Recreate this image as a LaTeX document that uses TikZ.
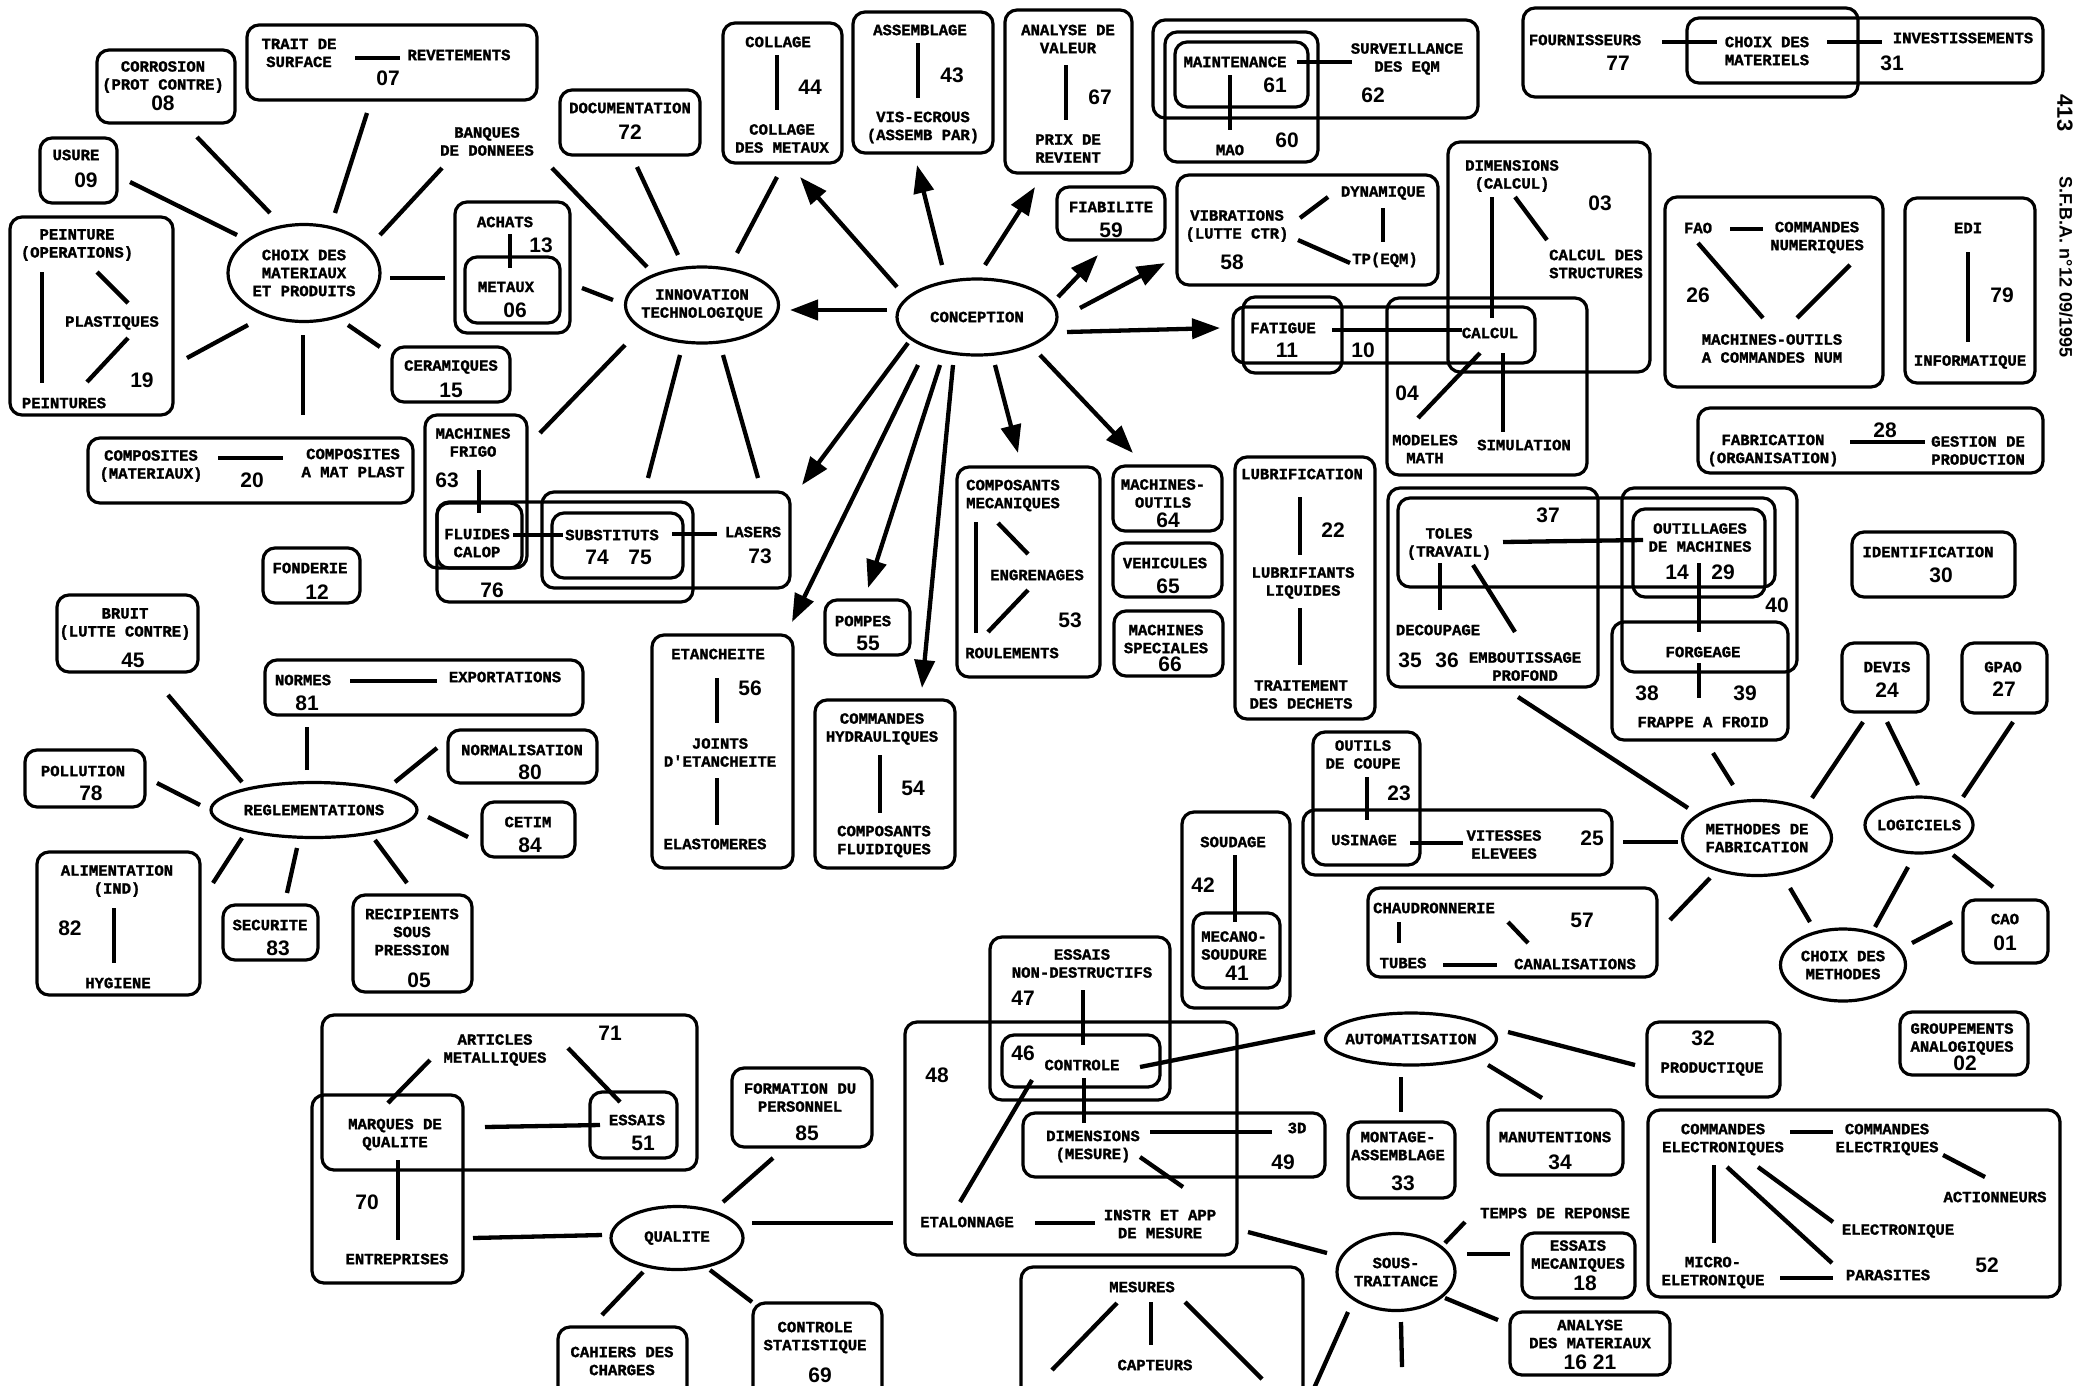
\documentclass[tikz,border=0pt]{standalone}
\usepackage{fontspec}
\newfontfamily\labfont{Liberation Mono}[BoldFeatures={FakeBold=1.5}]
\newfontfamily\numfont{Liberation Sans}
\usetikzlibrary{positioning,arrows.meta,shapes.geometric,fit,calc}

\begin{document}
\begin{tikzpicture}[
  x=1pt, y=-1pt,
  box/.style={draw, line width=3.2pt, rounded corners=12pt, inner sep=0pt},
  oval/.style={draw, ellipse, line width=3.2pt, inner sep=0pt},
  lab/.style={align=center, inner sep=1pt, font=\labfont\bfseries\fontsize{15.6}{18}\selectfont},
  num/.style={inner sep=1pt, font=\numfont\bfseries\fontsize{21}{24}\selectfont},
  ln/.style={line width=4.3pt},
  arr/.style={line width=4.3pt, -{Triangle[length=28pt,width=20pt]}},
  sidetxt/.style={rotate=-90, inner sep=0pt, font=\numfont\bfseries\fontsize{18}{20}\selectfont}
]
\fill[white] (0,0) rectangle (2079,1385);
\useasboundingbox (0,0) rectangle (2079,1385);

% choix des materiaux et produits
\node[oval, minimum width=152pt, minimum height=97pt] (choixmat) at (304,273) {};
\node[lab] (choixmattxt) at (choixmat) {CHOIX DES\\MATERIAUX\\ET PRODUITS};
\node[box, fit={(97,50) (235,123)}] (b08) {};
\node[lab] (corros) at (163,77) {CORROSION\\(PROT CONTRE)};
\node[num] (n08) at (163,103) {08};
\node[box, fit={(247,25) (537,100)}] (b07) {};
\node[lab] (traitsurf) at (299,53) {TRAIT DE\\SURFACE};
\node[lab] (revet) at (459,55) {REVETEMENTS};
\node[num] (n07) at (388,78) {07};
\node[box, fit={(40,138) (117,203)}] (b09) {};
\node[lab] (usure) at (76,155) {USURE};
\node[num] (n09) at (86,180) {09};
\node[box, fit={(10,217) (173,415)}] (b19) {};
\node[lab] (peinture) at (77,245) {PEINTURE\\(OPERATIONS)};
\node[lab] (plast) at (112,323) {PLASTIQUES};
\node[lab] (peintures) at (64,403) {PEINTURES};
\node[num] (n19) at (142,380) {19};
\node[lab] (banques) at (487,141.5) {BANQUES\\DE DONNEES};
\node[box, fit={(455,202) (570,333)}] (b13) {};
\node[box, fit={(465,257) (560,323)}] (b06) {};
\node[lab] (achats) at (505,222) {ACHATS};
\node[num] (n13) at (541,245) {13};
\node[lab] (metaux) at (506,287) {METAUX};
\node[num] (n06) at (515,310) {06};
\node[box, fit={(392,347) (510,402)}] (b15) {};
\node[lab] (ceram) at (451,367) {CERAMIQUES};
\node[num] (n15) at (451,390) {15};
\node[box, fit={(88,438) (413,503)}] (b20) {};
\node[lab] (compmat) at (151,466) {COMPOSITES\\(MATERIAUX)};
\node[lab] (compplast) at (353,463) {COMPOSITES\\A MAT PLAST};
\node[num] (n20) at (252,480) {20};

\draw[ln] ($(choixmat)+(-34,-60)$) -- ($(b08)+(31,50.5)$);
\draw[ln] ($(choixmat)+(-67,-38)$) -- ($(b09)+(51.5,11.5)$);
\draw[ln] ($(choixmat)+(31,-60)$) -- ($(b07)+(-25,50.5)$);
\draw[ln] ($(choixmat)+(76,-38)$) -- ($(banques)+(-45,26.5)$);
\draw[ln] ($(choixmat)+(86,5)$) -- ($(b13)+(-67.5,10.5)$);
\draw[ln] ($(choixmat)+(44,52)$) -- ($(b15)+(-71,-27.5)$);
\draw[ln] ($(choixmat)+(-1,62)$) -- ($(b20)+(52.5,-55.5)$);
\draw[ln] ($(choixmat)+(-56,52)$) -- ($(b19)+(95.5,42)$);
\draw[ln] ($(traitsurf)+(56,5)$) -- ($(revet)+(-59,3)$);
\draw[ln] ($(peinture)+(-35,27)$) -- ($(peintures)+(-22,-20)$);
\draw[ln] ($(peinture)+(20,27)$) -- ($(plast)+(16,-20)$);
\draw[ln] ($(plast)+(16,15)$) -- ($(peintures)+(23,-21)$);
\draw[ln] ($(achats)+(5,12)$) -- ($(metaux)+(4,-19)$);
\draw[ln] ($(compmat)+(67,-8)$) -- ($(compplast)+(-70,-5)$);

% innovation technologique
\node[oval, minimum width=153pt, minimum height=76pt] (innov) at (702,305) {};
\node[lab] (innovtxt) at (innov) {INNOVATION\\TECHNOLOGIQUE};
\node[box, fit={(560,90) (700,155)}] (b72) {};
\node[lab] (docu) at (630,108) {DOCUMENTATION};
\node[num] (n72) at (630,132) {72};
\node[box, fit={(723,23) (842,163)}] (b44) {};
\node[lab] (coll) at (778,42) {COLLAGE};
\node[num] (n44) at (810,87) {44};
\node[lab] (collmet) at (782,138.5) {COLLAGE\\DES METAUX};
\node[box, fit={(425,415) (527,568)}] (b63) {};
\node[lab] (frigo) at (473,442.5) {MACHINES\\FRIGO};
\node[num] (n63) at (447,480) {63};
\node[box, fit={(437,503) (522,568)}] (bfluid) {};
\node[lab] (fluid) at (477,543) {FLUIDES\\CALOP};
\node[box, fit={(437,502) (693,602)}] (b76) {};
\node[num] (n76) at (492,590) {76};
\node[box, fit={(542,492) (790,588)}] (b73) {};
\node[box, fit={(552,513) (683,578)}] (b74) {};
\node[lab] (subst) at (612,535) {SUBSTITUTS};
\node[num] (n74) at (597,557) {74};
\node[num] (n75) at (640,557) {75};
\node[lab] (lasers) at (753,532) {LASERS};
\node[num] (n73) at (760,556) {73};

\draw[ln] ($(coll)+(-1,13)$) -- ($(collmet)+(-5,-28.5)$);
\draw[ln] ($(frigo)+(6,27.5)$) -- ($(fluid)+(2,-30)$);
\draw[ln] ($(fluid)+(36,-8)$) -- ($(subst)+(-49,0)$);
\draw[ln] ($(subst)+(60,-1)$) -- ($(lasers)+(-36,2)$);
\draw[ln] ($(innov)+(-55,-38)$) -- ($(banques)+(65,26.5)$);
\draw[ln] ($(innov)+(-24,-50)$) -- ($(b72)+(7,44.5)$);
\draw[ln] ($(innov)+(35,-52)$) -- ($(b44)+(-5.5,84)$);
\draw[ln] ($(innov)+(-89,-5)$) -- ($(b13)+(69.5,20.5)$);
\draw[ln] ($(innov)+(-77,40)$) -- ($(b63)+(64,-58.5)$);
\draw[ln] ($(innov)+(-22,50)$) -- ($(b76)+(83,-74)$);
\draw[ln] ($(innov)+(21,50)$) -- ($(b73)+(92,-62)$);

% conception
\node[oval, minimum width=160pt, minimum height=76pt] (concep) at (977,317) {};
\node[lab] (conceptxt) at (concep) {CONCEPTION};
\node[box, fit={(853,12) (993,153)}] (b43) {};
\node[lab] (assemb) at (920,30) {ASSEMBLAGE};
\node[num] (n43) at (952,75) {43};
\node[lab] (visecr) at (923,127.5) {VIS-ECROUS\\(ASSEMB PAR)};
\node[box, fit={(1005,10) (1132,173)}] (b67) {};
\node[lab] (anval) at (1068,39) {ANALYSE DE\\VALEUR};
\node[num] (n67) at (1100,97) {67};
\node[lab] (prixrev) at (1068,148.5) {PRIX DE\\REVIENT};
\node[box, fit={(1057,187) (1165,240)}] (b59) {};
\node[lab] (fiab) at (1111,207) {FIABILITE};
\node[num] (n59) at (1111,230) {59};
\draw[ln] ($(assemb)+(-2,13)$) -- ($(visecr)+(-5,-29.5)$);
\draw[ln] ($(anval)+(-2,26)$) -- ($(prixrev)+(-2,-28.5)$);

% maintenance
\node[box, fit={(1153,20) (1478,118)}] (b62) {};
\node[box, fit={(1165,32) (1318,162)}] (b60) {};
\node[box, fit={(1175,42) (1308,107)}] (b61) {};
\node[lab] (maint) at (1235,62) {MAINTENANCE};
\node[num] (n61) at (1275,85) {61};
\node[lab] (surv) at (1407,59) {SURVEILLANCE\\DES EQM};
\node[num] (n62) at (1373,95) {62};
\node[lab] (mao) at (1230,150) {MAO};
\node[num] (n60) at (1287,140) {60};
\draw[ln] ($(maint)+(62,0)$) -- ($(surv)+(-55,3)$);
\draw[ln] ($(maint)+(-5,13)$) -- ($(mao)+(0,-20)$);

% vibrations
\node[box, fit={(1177,175) (1438,285)}] (b58) {};
\node[lab] (vibr) at (1237,226) {VIBRATIONS\\(LUTTE CTR)};
\node[num] (n58) at (1232,262) {58};
\node[lab] (dynam) at (1383,193) {DYNAMIQUE};
\node[lab] (tpeqm) at (1385,260) {TP(EQM)};
\draw[ln] ($(vibr)+(63,-8)$) -- ($(dynam)+(-55,4)$);
\draw[ln] ($(dynam)+(0,15)$) -- ($(tpeqm)+(-2,-18)$);
\draw[ln] ($(vibr)+(61,14)$) -- ($(tpeqm)+(-35,3)$);

% fatigue, calcul
\node[box, fit={(1448,142) (1650,372)}] (b03) {};
\node[box, fit={(1387,298) (1587,475)}] (b04) {};
\node[box, fit={(1243,297) (1342,373)}] (b11) {};
\node[box, fit={(1233,307) (1535,363)}] (b10) {};
\node[lab] (fatig) at (1283,328) {FATIGUE};
\node[num] (n11) at (1287,350) {11};
\node[num] (n10) at (1363,350) {10};
\node[lab] (calcul) at (1490,333) {CALCUL};
\node[lab] (dimcalc) at (1512,176) {DIMENSIONS\\(CALCUL)};
\node[num] (n03) at (1600,203) {03};
\node[lab] (calcstr) at (1596,264) {CALCUL DES\\STRUCTURES};
\node[num] (n04) at (1407,393) {04};
\node[lab] (modmath) at (1425,449) {MODELES\\MATH};
\node[lab] (simul) at (1524,445) {SIMULATION};
\draw[ln] ($(fatig)+(49,2)$) -- ($(calcul)+(-28,-3)$);
\draw[ln] ($(dimcalc)+(-20,21)$) -- ($(calcul)+(2,-15)$);
\draw[ln] ($(dimcalc)+(3,21)$) -- ($(calcstr)+(-49,-24)$);
\draw[ln] ($(calcul)+(-10,20)$) -- ($(modmath)+(-7,-31)$);
\draw[ln] ($(calcul)+(13,20)$) -- ($(simul)+(-21,-13)$);

% fournisseurs
\node[box, fit={(1523,8) (1858,97)}] (b77) {};
\node[box, fit={(1687,18) (2043,83)}] (b31) {};
\node[lab] (fourn) at (1585,40) {FOURNISSEURS};
\node[num] (n77) at (1618,63) {77};
\node[lab] (choixmatl) at (1767,51) {CHOIX DES\\MATERIELS};
\node[lab] (invest) at (1963,38) {INVESTISSEMENTS};
\node[num] (n31) at (1892,63) {31};
\draw[ln] ($(fourn)+(77,2)$) -- ($(choixmatl)+(-50,-9)$);
\draw[ln] ($(choixmatl)+(60,-9)$) -- ($(invest)+(-81,4)$);

% FAO, EDI, fabrication
\node[box, fit={(1665,197) (1883,387)}] (b26) {};
\node[lab] (fao) at (1698,228) {FAO};
\node[lab] (cmdnum) at (1817,237.5) {COMMANDES\\NUMERIQUES};
\node[num] (n26) at (1698,295) {26};
\node[lab] (macn) at (1772,348.5) {MACHINES-OUTILS\\A COMMANDES NUM};
\draw[ln] ($(fao)+(32,1)$) -- ($(cmdnum)+(-54,-8.5)$);
\draw[ln] ($(fao)+(0,15)$) -- ($(macn)+(-9,-30.5)$);
\draw[ln] ($(cmdnum)+(33,27.5)$) -- ($(macn)+(25,-30.5)$);
\node[box, fit={(1905,198) (2035,383)}] (b79) {};
\node[lab] (edi) at (1968,228) {EDI};
\node[num] (n79) at (2002,295) {79};
\node[lab] (inform) at (1970,362) {INFORMATIQUE};
\draw[ln] ($(edi)+(0,24)$) -- ($(inform)+(-2,-20)$);
\node[box, fit={(1698,408) (2043,473)}] (b28) {};
\node[lab] (fabr) at (1773,450.5) {FABRICATION\\(ORGANISATION)};
\node[num] (n28) at (1885,430) {28};
\node[lab] (gestprod) at (1978,450.5) {GESTION DE\\PRODUCTION};
\draw[ln] ($(fabr)+(77,-8.5)$) -- ($(gestprod)+(-53,-8.5)$);
\node[sidetxt, font=\numfont\bfseries\fontsize{22}{24}\selectfont] (pagenum) at (2065,113) {413};
\node[sidetxt] (source) at (2066,267) {S.F.B.A. n°12 09/1995};

% reglementations
\node[oval, minimum width=206pt, minimum height=55pt] (regl) at (314,810) {};
\node[lab] (regltxt) at (regl) {REGLEMENTATIONS};
\node[box, fit={(263,548) (360,603)}] (b12) {};
\node[lab] (fond) at (310,568) {FONDERIE};
\node[num] (n12) at (317,592) {12};
\node[box, fit={(57,595) (198,672)}] (b45) {};
\node[lab] (bruit) at (125,624) {BRUIT\\(LUTTE CONTRE)};
\node[num] (n45) at (133,660) {45};
\node[box, fit={(265,660) (583,715)}] (b81) {};
\node[lab] (normes) at (303,680) {NORMES};
\node[lab] (export) at (505,677) {EXPORTATIONS};
\node[num] (n81) at (307,703) {81};
\node[box, fit={(448,730) (597,783)}] (b80) {};
\node[lab] (normal) at (522,750) {NORMALISATION};
\node[num] (n80) at (530,772) {80};
\node[box, fit={(482,802) (575,857)}] (b84) {};
\node[lab] (cetim) at (528,822) {CETIM};
\node[num] (n84) at (530,845) {84};
\node[box, fit={(25,750) (145,807)}] (b78) {};
\node[lab] (pollu) at (83,771) {POLLUTION};
\node[num] (n78) at (91,793) {78};
\node[box, fit={(37,852) (200,995)}] (b82) {};
\node[lab] (alim) at (117,881) {ALIMENTATION\\(IND)};
\node[num] (n82) at (70,928) {82};
\node[lab] (hygiene) at (118,983) {HYGIENE};
\node[box, fit={(223,905) (318,960)}] (b83) {};
\node[lab] (secur) at (270,925) {SECURITE};
\node[num] (n83) at (278,948) {83};
\node[box, fit={(353,895) (472,992)}] (b05) {};
\node[lab] (recip) at (412,932) {RECIPIENTS\\SOUS\\PRESSION};
\node[num] (n05) at (419,980) {05};

\draw[ln] ($(normes)+(47,1)$) -- ($(export)+(-68,4)$);
\draw[ln] ($(alim)+(-3,27)$) -- ($(hygiene)+(-4,-20)$);
\draw[ln] ($(regl)+(-72,-28)$) -- ($(b45)+(40.5,61.5)$);
\draw[ln] ($(regl)+(-7,-40)$) -- ($(b81)+(-117,39.5)$);
\draw[ln] ($(regl)+(81,-28)$) -- ($(b80)+(-85.5,-8.5)$);
\draw[ln] ($(regl)+(-114,-5)$) -- ($(b78)+(72,4.5)$);
\draw[ln] ($(regl)+(114,7)$) -- ($(b84)+(-60.5,7.5)$);
\draw[ln] ($(regl)+(-72,28)$) -- ($(b82)+(94.5,-40.5)$);
\draw[ln] ($(regl)+(-17,38)$) -- ($(b83)+(16.5,-39.5)$);
\draw[ln] ($(regl)+(61,30)$) -- ($(b05)+(-5.5,-60.5)$);

% etancheite, pompes, composants
\node[box, fit={(652,635) (793,868)}] (b56) {};
\node[lab] (etanch) at (718,654) {ETANCHEITE};
\node[num] (n56) at (750,688) {56};
\node[lab] (joints) at (720,752.5) {JOINTS\\D'ETANCHEITE};
\node[lab] (elast) at (715,844) {ELASTOMERES};
\draw[ln] ($(etanch)+(-1,24)$) -- ($(joints)+(-3,-29.5)$);
\draw[ln] ($(joints)+(-3,25.5)$) -- ($(elast)+(2,-19)$);
\node[box, fit={(825,600) (910,655)}] (b55) {};
\node[lab] (pompes) at (863,621) {POMPES};
\node[num] (n55) at (868,643) {55};
\node[box, fit={(815,700) (955,868)}] (b54) {};
\node[lab] (cmdhyd) at (882,729) {COMMANDES\\HYDRAULIQUES};
\node[num] (n54) at (913,788) {54};
\node[lab] (compfl) at (884,841.5) {COMPOSANTS\\FLUIDIQUES};
\draw[ln] ($(cmdhyd)+(-2,26)$) -- ($(compfl)+(-4,-28.5)$);
\node[box, fit={(957,467) (1100,677)}] (b53) {};
\node[lab] (compmec) at (1013,495.5) {COMPOSANTS\\MECANIQUES};
\node[lab] (engren) at (1037,575) {ENGRENAGES};
\node[lab] (roulem) at (1012,653) {ROULEMENTS};
\node[num] (n53) at (1070,620) {53};
\draw[ln] ($(compmec)+(-37,26.5)$) -- ($(roulem)+(-36,-20)$);
\draw[ln] ($(compmec)+(-15,27.5)$) -- ($(engren)+(-9,-21)$);
\draw[ln] ($(engren)+(-9,15)$) -- ($(roulem)+(-24,-21)$);
\node[box, fit={(1113,466) (1222,531)}] (b64) {};
\node[lab] (macho) at (1163,493.5) {MACHINES-\\OUTILS};
\node[num] (n64) at (1168,520) {64};
\node[box, fit={(1113,543) (1222,597)}] (b65) {};
\node[lab] (vehic) at (1165,563) {VEHICULES};
\node[num] (n65) at (1168,586) {65};
\node[box, fit={(1114,611) (1223,676)}] (b66) {};
\node[lab] (machsp) at (1166,639) {MACHINES\\SPECIALES};
\node[num] (n66) at (1170,664) {66};
\node[box, fit={(1235,457) (1375,719)}] (b22) {};
\node[lab] (lubrif) at (1302,474) {LUBRIFICATION};
\node[num] (n22) at (1333,530) {22};
\node[lab] (lubliq) at (1303,583) {LUBRIFIANTS\\LIQUIDES};
\node[lab] (traitdech) at (1301,694.5) {TRAITEMENT\\DES DECHETS};
\draw[ln] ($(lubrif)+(-2,23)$) -- ($(lubliq)+(-3,-28)$);
\draw[ln] ($(lubliq)+(-3,25)$) -- ($(traitdech)+(-1,-29.5)$);

% toles, outillages, forgeage
\node[box, fit={(1388,488) (1598,687)}] (b35) {};
\node[box, fit={(1398,498) (1775,587)}] (b37) {};
\node[box, fit={(1622,488) (1797,672)}] (b40) {};
\node[box, fit={(1633,509) (1765,597)}] (b14) {};
\node[box, fit={(1612,622) (1788,740)}] (b38) {};
\node[lab] (toles) at (1449,544) {TOLES\\(TRAVAIL)};
\node[num] (n37) at (1548,515) {37};
\node[lab] (decoup) at (1438,630) {DECOUPAGE};
\node[num] (n35) at (1410,660) {35};
\node[num] (n36) at (1447,660) {36};
\node[lab] (embout) at (1525,666.5) {EMBOUTISSAGE\\PROFOND};
\node[lab] (outil) at (1700,537.5) {OUTILLAGES\\DE MACHINES};
\node[num] (n14) at (1677,572) {14};
\node[num] (n29) at (1723,572) {29};
\node[num] (n40) at (1777,605) {40};
\node[lab] (forg) at (1703,652) {FORGEAGE};
\node[num] (n38) at (1647,693) {38};
\node[num] (n39) at (1745,693) {39};
\node[lab] (frappe) at (1703,722) {FRAPPE A FROID};
\draw[ln] ($(toles)+(54,-2)$) -- ($(outil)+(-57,2.5)$);
\draw[ln] ($(toles)+(-9,19)$) -- ($(decoup)+(2,-20)$);
\draw[ln] ($(toles)+(24,21)$) -- ($(embout)+(-10,-34.5)$);
\draw[ln] ($(outil)+(-1,25.5)$) -- ($(forg)+(-4,-20)$);
\draw[ln] ($(forg)+(-4,11)$) -- ($(frappe)+(-4,-24)$);

% methodes de fabrication
\node[oval, minimum width=149pt, minimum height=75pt] (method) at (1757,838) {};
\node[lab] (methodtxt) at (method) {METHODES DE\\FABRICATION};
\node[box, fit={(1303,810) (1612,875)}] (b25) {};
\node[box, fit={(1313,732) (1420,865)}] (b23) {};
\node[lab] (outcoup) at (1363,754.5) {OUTILS\\DE COUPE};
\node[num] (n23) at (1399,793) {23};
\node[lab] (usin) at (1364,840) {USINAGE};
\node[lab] (vitess) at (1504,844.5) {VITESSES\\ELEVEES};
\node[num] (n25) at (1592,838) {25};
\node[box, fit={(1368,888) (1657,977)}] (b57) {};
\node[lab] (chaud) at (1434,908) {CHAUDRONNERIE};
\node[lab] (tubes) at (1403,963) {TUBES};
\node[lab] (canal) at (1575,964) {CANALISATIONS};
\node[num] (n57) at (1582,920) {57};
\node[box, fit={(1182,812) (1290,1008)}] (b42) {};
\node[box, fit={(1193,913) (1280,988)}] (b41) {};
\node[lab] (soud) at (1233,842) {SOUDAGE};
\node[num] (n42) at (1203,885) {42};
\node[lab] (mecsoud) at (1234,945.5) {MECANO-\\SOUDURE};
\node[num] (n41) at (1237,973) {41};

\draw[ln] ($(outcoup)+(4,22.5)$) -- ($(usin)+(3,-20)$);
\draw[ln] ($(usin)+(46,3)$) -- ($(vitess)+(-41,-1.5)$);
\draw[ln] ($(chaud)+(-35,14)$) -- ($(tubes)+(-4,-20)$);
\draw[ln] ($(tubes)+(40,2)$) -- ($(canal)+(-78,1)$);
\draw[ln] ($(chaud)+(74,14)$) -- ($(canal)+(-47,-21)$);
\draw[ln] ($(soud)+(2,13)$) -- ($(mecsoud)+(1,-23.5)$);
\draw[ln] ($(b35)+(25,109.5)$) -- ($(method)+(-69,-30)$);
\draw[ln] ($(b38)+(13,72)$) -- ($(method)+(-24,-53)$);
\draw[ln] ($(b25)+(165.5,-0.5)$) -- ($(method)+(-79,4)$);
\draw[ln] ($(method)+(-47,40)$) -- ($(b57)+(157.5,-12.5)$);

% logiciels
\node[oval, minimum width=108pt, minimum height=56pt] (logic) at (1919,825) {};
\node[lab] (logictxt) at (logic) {LOGICIELS};
\node[oval, minimum width=125pt, minimum height=72pt] (choixmeth) at (1843,965) {};
\node[lab] (choixmethtxt) at (choixmeth) {CHOIX DES\\METHODES};
\node[box, fit={(1842,643) (1928,712)}] (b24) {};
\node[lab] (devis) at (1887,667) {DEVIS};
\node[num] (n24) at (1887,690) {24};
\node[box, fit={(1962,643) (2047,713)}] (b27) {};
\node[lab] (gpao) at (2003,667) {GPAO};
\node[num] (n27) at (2004,689) {27};
\node[box, fit={(1852,532) (2015,597)}] (b30) {};
\node[lab] (ident) at (1928,552) {IDENTIFICATION};
\node[num] (n30) at (1941,575) {30};
\node[box, fit={(1963,900) (2048,963)}] (b01) {};
\node[lab] (cao) at (2005,919) {CAO};
\node[num] (n01) at (2005,943) {01};
\draw[ln] ($(method)+(33,50)$) -- ($(choixmeth)+(-33,-43)$);
\draw[ln] ($(b24)+(-22,44.5)$) -- ($(method)+(55,-40)$);
\draw[ln] ($(b24)+(2,44.5)$) -- ($(logic)+(-1,-40)$);
\draw[ln] ($(b27)+(8.5,44)$) -- ($(logic)+(44,-28)$);
\draw[ln] ($(logic)+(-11,42)$) -- ($(choixmeth)+(32,-38)$);
\draw[ln] ($(logic)+(34,30)$) -- ($(b01)+(-12.5,-44.5)$);
\draw[ln] ($(choixmeth)+(69,-22)$) -- ($(b01)+(-53.5,-9.5)$);

% controle, mesure
\node[box, fit={(905,1022) (1237,1255)}] (b48) {};
\node[box, fit={(990,937) (1170,1100)}] (b47) {};
\node[box, fit={(1002,1035) (1160,1087)}] (b46) {};
\node[box, fit={(1023,1113) (1325,1177)}] (b49) {};
\node[lab] (ndt) at (1082,963.5) {ESSAIS\\NON-DESTRUCTIFS};
\node[num] (n47) at (1023,998) {47};
\node[num] (n46) at (1023,1053) {46};
\node[lab] (ctrl) at (1082,1065) {CONTROLE};
\node[num] (n48) at (937,1075) {48};
\node[lab] (dimmes) at (1093,1146.5) {DIMENSIONS\\(MESURE)};
\node[lab] (troisd) at (1297,1128) {3D};
\node[num] (n49) at (1283,1162) {49};
\node[lab] (etal) at (967,1222) {ETALONNAGE};
\node[lab] (instr) at (1160,1224) {INSTR ET APP\\DE MESURE};
\draw[ln] ($(ndt)+(1,26.5)$) -- ($(ctrl)+(1,-20)$);
\draw[ln] ($(ctrl)+(2,13)$) -- ($(dimmes)+(-9,-23.5)$);
\draw[ln] ($(dimmes)+(57,-14.5)$) -- ($(troisd)+(-25,4)$);
\draw[ln] ($(dimmes)+(47,10.5)$) -- ($(instr)+(23,-37)$);
\draw[ln] ($(etal)+(-7,-20)$) -- ($(ctrl)+(-50,15)$);
\draw[ln] ($(etal)+(68,1)$) -- ($(instr)+(-65,-1)$);

% automatisation
\node[oval, minimum width=171pt, minimum height=52pt] (autom) at (1411,1039) {};
\node[lab] (automtxt) at (autom) {AUTOMATISATION};
\node[box, fit={(1348,1122) (1455,1198)}] (b33) {};
\node[lab] (montage) at (1398,1146) {MONTAGE-\\ASSEMBLAGE};
\node[num] (n33) at (1403,1183) {33};
\node[box, fit={(1488,1110) (1623,1175)}] (b34) {};
\node[lab] (manut) at (1555,1137) {MANUTENTIONS};
\node[num] (n34) at (1560,1162) {34};
\node[box, fit={(1647,1022) (1780,1097)}] (b32) {};
\node[num] (n32) at (1703,1038) {32};
\node[lab] (prodq) at (1712,1069) {PRODUCTIQUE};
\node[box, fit={(1900,1012) (2028,1075)}] (b02) {};
\node[lab] (grpanal) at (1962,1039) {GROUPEMENTS\\ANALOGIQUES};
\node[num] (n02) at (1965,1063) {02};
\draw[ln] ($(ctrl)+(58,2)$) -- ($(autom)+(-96,-7)$);
\draw[ln] ($(autom)+(-10,38)$) -- ($(b33)+(-0.5,-48)$);
\draw[ln] ($(autom)+(77,26)$) -- ($(b34)+(-13.5,-44.5)$);
\draw[ln] ($(autom)+(97,-7)$) -- ($(b32)+(-78.5,5.5)$);

% commandes electroniques
\node[box, fit={(1648,1110) (2060,1297)}] (b52) {};
\node[lab] (cmdelec) at (1723,1139.5) {COMMANDES\\ELECTRONIQUES};
\node[lab] (cmdelq) at (1887,1139.5) {COMMANDES\\ELECTRIQUES};
\node[lab] (action) at (1995,1197) {ACTIONNEURS};
\node[lab] (electr) at (1898,1231) {ELECTRONIQUE};
\node[lab] (microel) at (1713,1272.5) {MICRO-\\ELETRONIQUE};
\node[lab] (parasit) at (1888,1275) {PARASITES};
\node[num] (n52) at (1987,1265) {52};
\draw[ln] ($(cmdelec)+(67,-7.5)$) -- ($(cmdelq)+(-54,-7.5)$);
\draw[ln] ($(cmdelq)+(56,15.5)$) -- ($(action)+(-10,-20)$);
\draw[ln] ($(cmdelec)+(35,27.5)$) -- ($(electr)+(-65,-9)$);
\draw[ln] ($(cmdelec)+(4,27.5)$) -- ($(parasit)+(-56,-12)$);
\draw[ln] ($(cmdelec)+(-9,25.5)$) -- ($(microel)+(1,-29.5)$);
\draw[ln] ($(microel)+(67,5.5)$) -- ($(parasit)+(-55,3)$);

% sous-traitance
\node[oval, minimum width=118pt, minimum height=77pt] (soustr) at (1396,1272) {};
\node[lab] (soustrtxt) at (soustr) {SOUS-\\TRAITANCE};
\node[lab] (temps) at (1555,1213) {TEMPS DE REPONSE};
\node[box, fit={(1522,1233) (1635,1298)}] (b18) {};
\node[lab] (essmec) at (1578,1256) {ESSAIS\\MECANIQUES};
\node[num] (n18) at (1585,1283) {18};
\node[box, fit={(1510,1312) (1670,1375)}] (b16) {};
\node[lab] (analmat) at (1590,1334) {ANALYSE\\DES MATERIAUX};
\node[num] (n16) at (1590,1362) {16 21};
\node[box, fit={(1021,1267) (1303,1410)}] (bmes) {};
\node[lab] (mesures) at (1142,1287) {MESURES};
\node[lab] (capteurs) at (1155,1365) {CAPTEURS};
\coordinate (mesl) at (1052,1370);
\coordinate (mesr) at (1262,1379);
\coordinate (offdown) at (1402,1367);
\coordinate (offleft) at (1311,1395);
\draw[ln] ($(b48)+(177,93.5)$) -- ($(soustr)+(-69,-19)$);
\draw[ln] ($(soustr)+(49,-29)$) -- ($(temps)+(-90,9)$);
\draw[ln] ($(soustr)+(71,-18)$) -- ($(b18)+(-68.5,-11.5)$);
\draw[ln] ($(soustr)+(49,26)$) -- ($(b16)+(-92,-23.5)$);
\draw[ln] ($(soustr)+(5,50)$) -- (offdown);
\draw[ln] ($(soustr)+(-48,40)$) -- (offleft);
\draw[ln] ($(mesures)+(-25,16)$) -- (mesl);
\draw[ln] ($(mesures)+(9,15)$) -- ($(capteurs)+(-4,-20)$);
\draw[ln] ($(mesures)+(43,15)$) -- (mesr);

% qualite
\node[box, fit={(322,1015) (697,1170)}] (b71) {};
\node[box, fit={(312,1095) (463,1283)}] (b70) {};
\node[box, fit={(590,1092) (677,1158)}] (b51) {};
\node[lab] (artic) at (495,1050) {ARTICLES\\METALLIQUES};
\node[num] (n71) at (610,1033) {71};
\node[lab] (marques) at (395,1134.5) {MARQUES DE\\QUALITE};
\node[lab] (essais) at (637,1120) {ESSAIS};
\node[num] (n51) at (643,1143) {51};
\node[num] (n70) at (367,1202) {70};
\node[lab] (entrep) at (397,1259) {ENTREPRISES};
\node[oval, minimum width=132pt, minimum height=63pt] (qualite) at (677,1238) {};
\node[lab] (qualitetxt) at (qualite) {QUALITE};
\node[box, fit={(732,1068) (872,1147)}] (b85) {};
\node[lab] (formpers) at (800,1097.5) {FORMATION DU\\PERSONNEL};
\node[num] (n85) at (807,1133) {85};
\node[box, fit={(558,1327) (687,1410)}] (bcah) {};
\node[lab] (cahiers) at (622,1361) {CAHIERS DES\\CHARGES};
\node[box, fit={(753,1303) (882,1410)}] (b69) {};
\node[lab] (ctrlstat) at (815,1337.5) {CONTROLE\\STATISTIQUE};
\node[num] (n69) at (820,1375) {69};
\draw[ln] ($(marques)+(-7,-31.5)$) -- ($(artic)+(-65,10)$);
\draw[ln] ($(artic)+(73,-2)$) -- ($(essais)+(-17,-18)$);
\draw[ln] ($(marques)+(90,-7.5)$) -- ($(essais)+(-37,5)$);
\draw[ln] ($(marques)+(3,25.5)$) -- ($(entrep)+(1,-19)$);
\draw[ln] ($(entrep)+(76,-21)$) -- ($(qualite)+(-75,-3)$);
\draw[ln] ($(qualite)+(46,-36)$) -- ($(b85)+(-29,50.5)$);
\draw[ln] ($(qualite)+(75,-15)$) -- ($(b48)+(-178,84.5)$);
\draw[ln] ($(qualite)+(-34,34)$) -- ($(bcah)+(-20.5,-53.5)$);
\draw[ln] ($(qualite)+(33,32)$) -- ($(b69)+(-65.5,-54.5)$);

% arrows out of conception
\draw[arr] ($(concep)+(-90,-7)$) -- ($(innov)+(88,5)$);
\draw[arr] ($(concep)+(-80,-30)$) -- ($(b44)+(17.5,84)$);
\draw[arr] ($(concep)+(-35,-52)$) -- ($(b43)+(-6,82.5)$);
\draw[arr] ($(concep)+(8,-52)$) -- ($(b67)+(-33.5,95.5)$);
\draw[arr] ($(concep)+(81,-20)$) -- ($(b59)+(-13,41.5)$);
\draw[arr] ($(concep)+(103,-9)$) -- ($(b58)+(-142.5,33)$);
\draw[arr] ($(concep)+(90,15)$) -- ($(b10)+(-164,-7)$);
\draw[arr] ($(concep)+(63,38)$) -- ($(b64)+(-34.5,-45.5)$);
\draw[arr] ($(concep)+(18,48)$) -- ($(b53)+(-10.5,-119)$);
\draw[arr] ($(concep)+(-24,48)$) -- ($(b54)+(37,-96)$);
\draw[arr] ($(concep)+(-37,48)$) -- ($(b55)+(0.5,-39.5)$);
\draw[arr] ($(concep)+(-59,48)$) -- ($(b56)+(69.5,-129.5)$);
\draw[arr] ($(concep)+(-69,26)$) -- ($(b73)+(136,-55)$);
\end{tikzpicture}
\end{document}
